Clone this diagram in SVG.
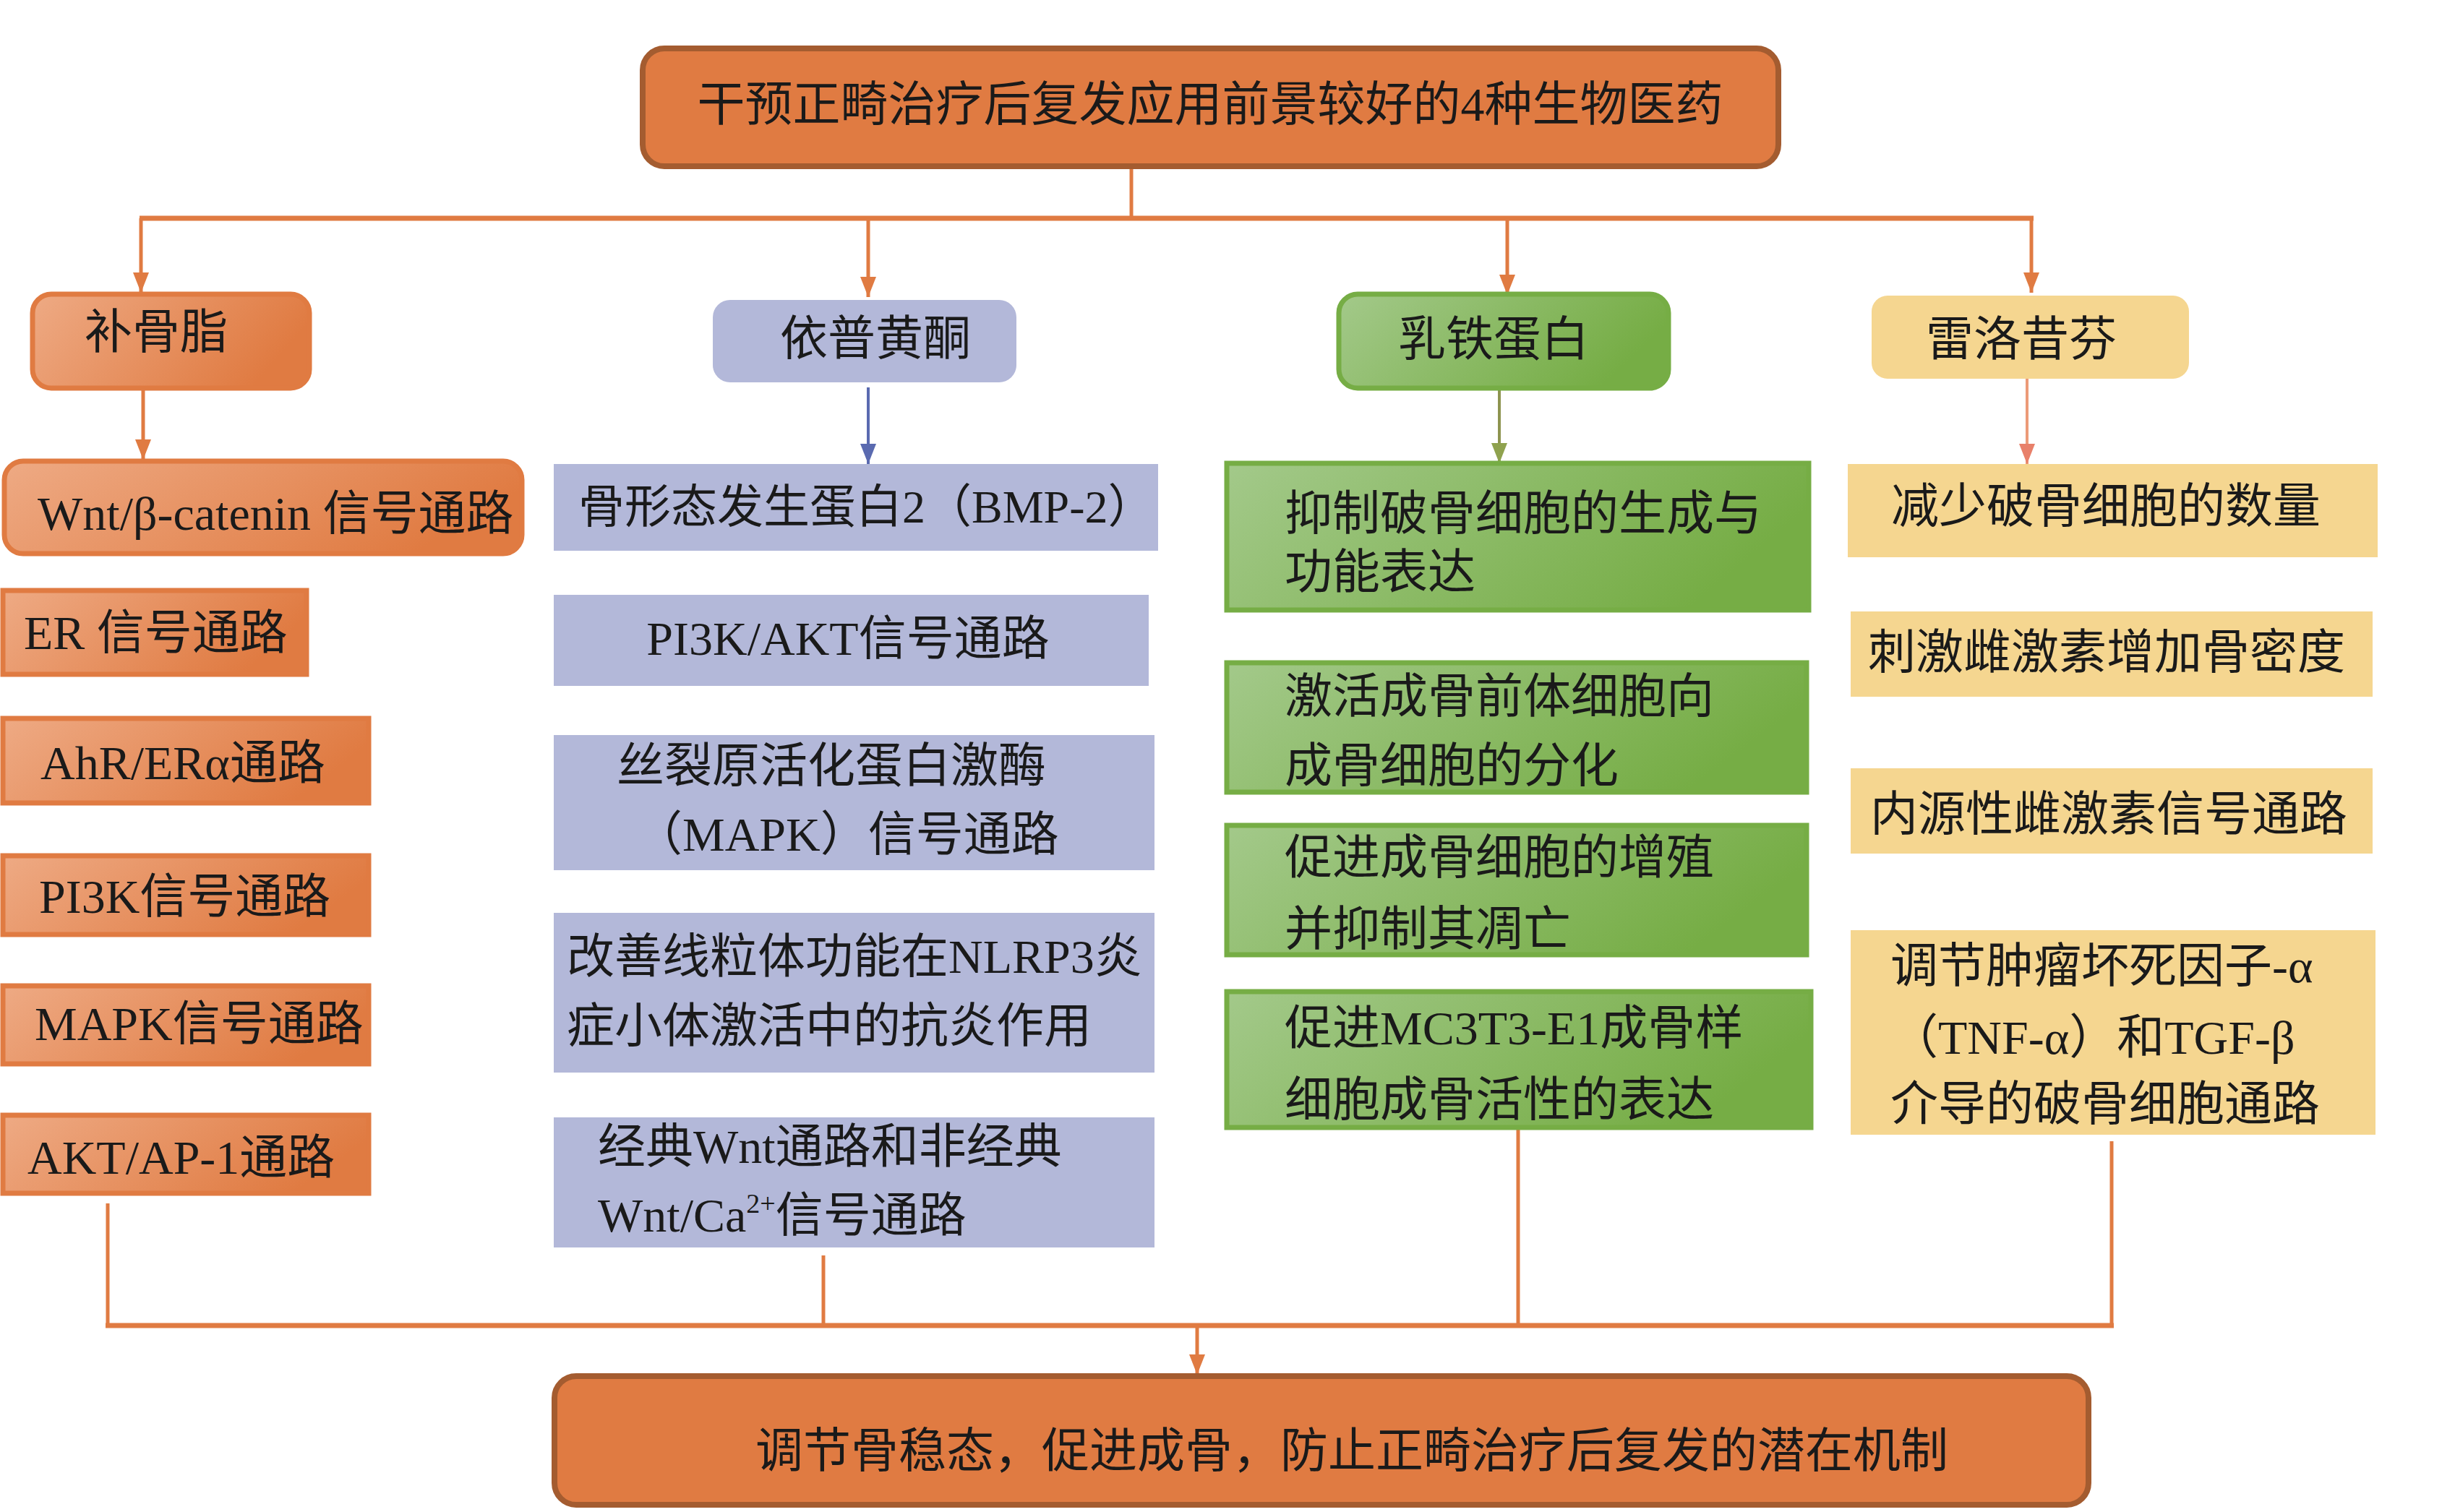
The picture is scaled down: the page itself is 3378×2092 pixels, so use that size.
<svg xmlns="http://www.w3.org/2000/svg" width="3378" height="2092" viewBox="0 0 3378 2092">
<defs>
<style>
text{font-family:"Liberation Serif","Noto Sans CJK SC",serif;font-size:66px;fill:#1a1a1a}
.big{font-size:66px}
.main{fill:#E07B42;stroke:#A45C30;stroke-width:8}
.og{fill:url(#gOrange);stroke:#E07B42;stroke-width:7}
.lav{fill:#B3B8D9}
.grn{fill:url(#gGreen);stroke:#76AD45;stroke-width:7}
.yel{fill:#F5D690}
.bus{stroke:#E07B42;stroke-width:7;fill:none}
.ln{stroke:#E07B42;stroke-width:5;fill:none}
</style>
<linearGradient id="gOrange" x1="0" y1="0" x2="1" y2="0.3">
<stop offset="0" stop-color="#EEAA84"/><stop offset="1" stop-color="#E07B42"/>
</linearGradient>
<linearGradient id="gGreen" x1="0" y1="0" x2="1" y2="0.3">
<stop offset="0" stop-color="#A3C98A"/><stop offset="1" stop-color="#76AD45"/>
</linearGradient>
<marker id="aO" markerUnits="userSpaceOnUse" markerWidth="28" markerHeight="22" refX="28" refY="11" orient="auto"><path d="M0,0 L28,11 L0,22 Z" fill="#E07B42"/></marker>
<marker id="aB" markerUnits="userSpaceOnUse" markerWidth="28" markerHeight="22" refX="28" refY="11" orient="auto"><path d="M0,0 L28,11 L0,22 Z" fill="#5A6AB0"/></marker>
<marker id="aG" markerUnits="userSpaceOnUse" markerWidth="28" markerHeight="22" refX="28" refY="11" orient="auto"><path d="M0,0 L28,11 L0,22 Z" fill="#8FA24E"/></marker>
<marker id="aS" markerUnits="userSpaceOnUse" markerWidth="28" markerHeight="22" refX="28" refY="11" orient="auto"><path d="M0,0 L28,11 L0,22 Z" fill="#E8806A"/></marker>
</defs>
<rect width="3378" height="2092" fill="#fff"/>

<g id="connectors">
<line class="ln" x1="1565" y1="232" x2="1565" y2="302"/>
<line class="bus" x1="193" y1="302" x2="2813" y2="302"/>
<line class="ln" x1="195" y1="302" x2="195" y2="405" marker-end="url(#aO)"/>
<line class="ln" x1="1201" y1="305" x2="1201" y2="411" marker-end="url(#aO)"/>
<line class="ln" x1="2085" y1="305" x2="2085" y2="408" marker-end="url(#aO)"/>
<line class="ln" x1="2810" y1="302" x2="2810" y2="405" marker-end="url(#aO)"/>
<line class="ln" x1="198" y1="537" x2="198" y2="636" marker-end="url(#aO)"/>
<line x1="1201" y1="536" x2="1201" y2="642" stroke="#5A6AB0" stroke-width="4" marker-end="url(#aB)"/>
<line x1="2074" y1="537" x2="2074" y2="641" stroke="#8E9450" stroke-width="4" marker-end="url(#aG)"/>
<line x1="2804" y1="524" x2="2804" y2="642" stroke="#EC9A78" stroke-width="4" marker-end="url(#aS)"/>
<line class="ln" x1="149" y1="1665" x2="149" y2="1837"/>
<line class="ln" x1="1139" y1="1737" x2="1139" y2="1834"/>
<line class="ln" x1="2100" y1="1560" x2="2100" y2="1836"/>
<line class="ln" x1="2921" y1="1579" x2="2921" y2="1831"/>
<line class="bus" x1="146" y1="1834" x2="2924" y2="1834"/>
<line class="ln" x1="1656" y1="1834" x2="1656" y2="1902" marker-end="url(#aO)"/>
</g>

<g id="top">
<rect class="main" x="889" y="67" width="1571" height="163" rx="30"/>
<text class="big" x="1674" y="167" text-anchor="middle">干预正畸治疗后复发应用前景较好的4种生物医药</text>
</g>

<g id="buguzhi">
<rect class="og" x="45" y="407" width="383" height="130" rx="26"/>
<text x="117" y="482">补骨脂</text>
</g>
<g id="yipuhuangtong">
<rect class="lav" x="986" y="415" width="420" height="114" rx="24"/>
<text x="1079" y="491">依普黄酮</text>
</g>
<g id="rutiedanbai">
<rect class="grn" x="1852" y="407" width="456" height="130" rx="26"/>
<text x="1934" y="492">乳铁蛋白</text>
</g>
<g id="leluoxifen">
<rect class="yel" x="2589" y="409" width="439" height="115" rx="22"/>
<text x="2664" y="492">雷洛昔芬</text>
</g>

<g id="c1-wnt">
<rect class="og" x="6" y="638" width="716" height="128" rx="26"/>
<text x="52" y="733">Wnt/β-catenin 信号通路</text>
</g>
<g id="c1-er">
<rect class="og" x="4" y="817" width="420" height="116"/>
<text x="33" y="898">ER 信号通路</text>
</g>
<g id="c1-ahr">
<rect class="og" x="4" y="994" width="506" height="117"/>
<text x="56" y="1078">AhR/ERα通路</text>
</g>
<g id="c1-pi3k">
<rect class="og" x="4" y="1184" width="506" height="109"/>
<text x="54" y="1263">PI3K信号通路</text>
</g>
<g id="c1-mapk">
<rect class="og" x="4" y="1364" width="506" height="108"/>
<text x="48" y="1439">MAPK信号通路</text>
</g>
<g id="c1-akt">
<rect class="og" x="4" y="1543" width="506" height="108"/>
<text x="38" y="1624">AKT/AP-1通路</text>
</g>

<g id="c2-bmp">
<rect class="lav" x="766" y="642" width="836" height="120"/>
<text x="800" y="723" style="font-size:64px">骨形态发生蛋白2（BMP-2）</text>
</g>
<g id="c2-pi3kakt">
<rect class="lav" x="766" y="823" width="823" height="126"/>
<text x="1173" y="906" text-anchor="middle">PI3K/AKT信号通路</text>
</g>
<g id="c2-mapk">
<rect class="lav" x="766" y="1017" width="831" height="187"/>
<text x="853" y="1082">丝裂原活化蛋白激酶</text>
<text x="878" y="1177">（MAPK）信号通路</text>
</g>
<g id="c2-nlrp3">
<rect class="lav" x="766" y="1263" width="831" height="221"/>
<text x="784" y="1346">改善线粒体功能在NLRP3炎</text>
<text x="784" y="1442">症小体激活中的抗炎作用</text>
</g>
<g id="c2-wnt">
<rect class="lav" x="766" y="1546" width="831" height="180"/>
<text x="827" y="1609">经典Wnt通路和非经典</text>
<text x="827" y="1704">Wnt/Ca<tspan dy="-26" style="font-size:38px">2+</tspan><tspan dy="26">信号通路</tspan></text>
</g>

<g id="c3-1">
<rect class="grn" x="1697" y="641" width="805" height="203"/>
<text x="1777" y="733">抑制破骨细胞的生成与</text>
<text x="1777" y="814">功能表达</text>
</g>
<g id="c3-2">
<rect class="grn" x="1697" y="917" width="802" height="179"/>
<text x="1777" y="986">激活成骨前体细胞向</text>
<text x="1777" y="1082">成骨细胞的分化</text>
</g>
<g id="c3-3">
<rect class="grn" x="1697" y="1142" width="802" height="179"/>
<text x="1777" y="1209">促进成骨细胞的增殖</text>
<text x="1777" y="1308">并抑制其凋亡</text>
</g>
<g id="c3-4">
<rect class="grn" x="1697" y="1372" width="808" height="188"/>
<text x="1777" y="1445">促进MC3T3-E1成骨样</text>
<text x="1777" y="1544">细胞成骨活性的表达</text>
</g>

<g id="c4-1">
<rect class="yel" x="2556" y="642" width="733" height="129"/>
<text x="2616" y="723">减少破骨细胞的数量</text>
</g>
<g id="c4-2">
<rect class="yel" x="2560" y="846" width="722" height="118"/>
<text x="2584" y="925">刺激雌激素增加骨密度</text>
</g>
<g id="c4-3">
<rect class="yel" x="2560" y="1063" width="722" height="118"/>
<text x="2587" y="1149">内源性雌激素信号通路</text>
</g>
<g id="c4-4">
<rect class="yel" x="2560" y="1287" width="726" height="283"/>
<text x="2615" y="1359">调节肿瘤坏死因子-α</text>
<text x="2615" y="1458">（TNF-α）和TGF-β</text>
<text x="2615" y="1550">介导的破骨细胞通路</text>
</g>

<g id="bottom">
<rect class="main" x="767" y="1904" width="2122" height="178" rx="30"/>
<text x="1870" y="2030" text-anchor="middle">调节骨稳态，促进成骨，防止正畸治疗后复发的潜在机制</text>
</g>
</svg>
